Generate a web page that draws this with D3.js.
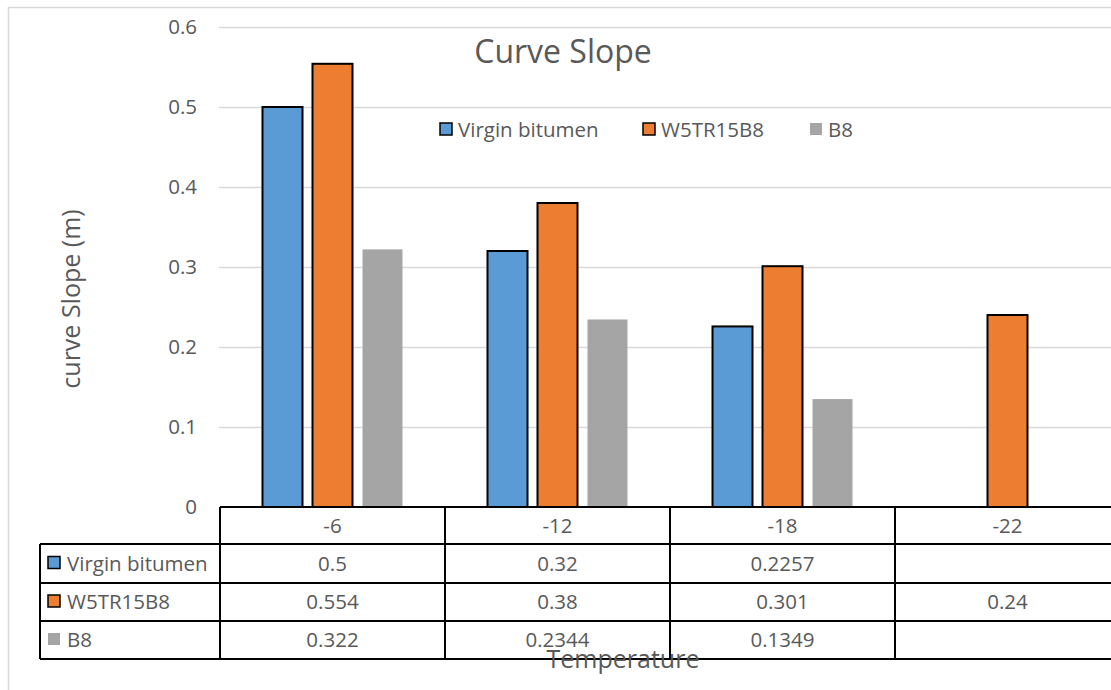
<!DOCTYPE html>
<html><head><meta charset="utf-8">
<script src="https://cdn.jsdelivr.net/npm/d3@7"></script>
<style>body{margin:0;background:#fff}svg{display:block}text{font-family:"Open Sans",Lato,sans-serif;fill:#595959}</style>
</head><body><svg id="c" width="1111" height="690"></svg>
<script>
const categories = ["-6", "-12", "-18", "-22"];
const seriesNames = ["Virgin bitumen", "W5TR15B8", "B8"];
const virginBitumen = [0.5, 0.32, 0.2257, null];
const w5tr15b8 = [0.554, 0.38, 0.301, 0.24];
const b8 = [0.322, 0.2344, 0.1349, null];
const tableText = [["0.5","0.32","0.2257",""],["0.554","0.38","0.301","0.24"],["0.322","0.2344","0.1349",""]];
const yTicks = [0, 0.1, 0.2, 0.3, 0.4, 0.5, 0.6];
const colors = ["#5B9BD5", "#ED7D31", "#A5A5A5"];
const strokes = ["#000", "#000", "none"];
const seriesVals = [virginBitumen, w5tr15b8, b8];

const FS = 20.5;
const svg = d3.select("#c");
// outer chart border
svg.append("path").attr("d","M8.5,690 V7.5 H1111").attr("fill","none").attr("stroke","#d9d9d9").attr("stroke-width",1.5);

const plotL = 220, plotR = 1120, y0 = 507, yTop = 27;
const x = d3.scaleBand().domain(categories).range([plotL, plotR]).paddingInner(0).paddingOuter(0);
const y = d3.scaleLinear().domain([0, 0.6]).range([y0, yTop]);
const xs = d3.scaleBand().domain(seriesNames).range([0, x.bandwidth()]).paddingInner(0.2).paddingOuter(0.85);

// gridlines
svg.append("g").selectAll("line").data(yTicks.filter(d=>d>0)).join("line")
  .attr("x1", plotL-1).attr("x2", 1111).attr("y1", d=>Math.round(y(d))+0.5).attr("y2", d=>Math.round(y(d))+0.5)
  .attr("stroke","#d9d9d9").attr("stroke-width",1.5);
// y tick labels
svg.append("g").selectAll("text").data(yTicks).join("text")
  .attr("x",197).attr("y",d=>y(d)+7).attr("text-anchor","end").attr("font-size",FS)
  .text(d=>d===0?"0":d3.format(".1f")(d));

// bars
seriesNames.forEach((s,i)=>{
  svg.append("g").selectAll("rect").data(categories.map((c,j)=>({c, v: seriesVals[i][j]})).filter(d=>d.v!=null)).join("rect")
    .attr("x", d=>x(d.c)+xs(s)).attr("width", xs.bandwidth())
    .attr("y", d=>y(d.v)).attr("height", d=>y0-y(d.v))
    .attr("fill", colors[i]).attr("stroke", strokes[i]).attr("stroke-width", 2);
});

// title
svg.append("text").attr("x",563).attr("y",63).attr("text-anchor","middle").attr("font-size",32).text("Curve Slope");

// legend
const legX = [440, 643, 810];
seriesNames.forEach((s,i)=>{
  const g = svg.append("g");
  g.append("rect").attr("x",legX[i]).attr("y",123).attr("width",12).attr("height",12)
    .attr("fill",colors[i]).attr("stroke",strokes[i]).attr("stroke-width",1.5);
  g.append("text").attr("x",legX[i]+18).attr("y",137).attr("font-size",FS).text(s);
});

// y axis title
svg.append("text").attr("transform","translate(80,299) rotate(-90)").attr("text-anchor","middle").attr("font-size",25).text("curve Slope (m)");

// data table
const rowY = [507, 544, 583, 621, 659];
const tbl = svg.append("g");
const tl = (x1,y1,x2,y2)=>tbl.append("line").attr("x1",x1).attr("y1",y1).attr("x2",x2).attr("y2",y2).attr("stroke","#000").attr("stroke-width",2);
tl(plotL, rowY[0], 1111, rowY[0]);
for (let r=1;r<rowY.length;r++) tl(40, rowY[r], 1111, rowY[r]);
tl(40, rowY[1], 40, rowY[4]);
tl(plotL, rowY[0], plotL, rowY[4]);
categories.forEach(c=>{ if (x(c)+x.bandwidth() < 1111) tl(x(c)+x.bandwidth(), rowY[0], x(c)+x.bandwidth(), rowY[4]); });
// header
svg.append("g").selectAll("text").data(categories).join("text")
  .attr("x", d=>x(d)+x.bandwidth()/2).attr("y", (rowY[0]+rowY[1])/2+7).attr("text-anchor","middle").attr("font-size",FS).text(d=>d);
// row labels
seriesNames.forEach((s,i)=>{
  const cy = (rowY[i+1]+rowY[i+2])/2;
  svg.append("rect").attr("x",48).attr("y",cy-7).attr("width",12).attr("height",12)
    .attr("fill",colors[i]).attr("stroke",strokes[i]).attr("stroke-width",1.5);
  svg.append("text").attr("x",67).attr("y",cy+7).attr("font-size",FS).text(s);
  svg.append("g").selectAll("text").data(categories).join("text")
    .attr("x", d=>x(d)+x.bandwidth()/2).attr("y", cy+7).attr("text-anchor","middle").attr("font-size",FS)
    .text((d,j)=>tableText[i][j]);
});
// x axis title
svg.append("text").attr("x",623).attr("y",668).attr("text-anchor","middle").attr("font-size",25).text("Temperature");
</script></body></html>
